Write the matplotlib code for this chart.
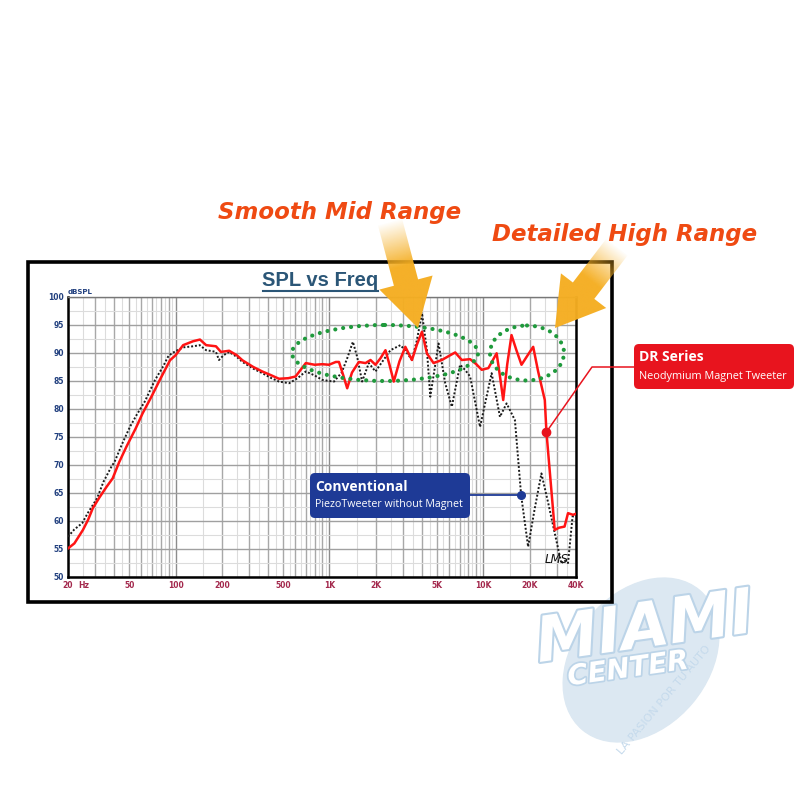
import numpy as np
import matplotlib
matplotlib.use("Agg")
import matplotlib.pyplot as plt
from matplotlib.patches import Rectangle, Ellipse, FancyBboxPatch, Polygon
import matplotlib.patheffects as pe

# measured response, DR series (red)
dr_freq = [20, 22, 25, 27, 29, 32, 35.6, 39, 43, 48, 55, 61, 70, 79, 92, 100, 112, 130, 144,
           158, 183, 197, 210, 223, 250, 272, 320, 366, 420, 470, 540, 602, 650, 702, 800,
           900, 992, 1100, 1153, 1230, 1304, 1400, 1552, 1715, 1848, 1990, 2144, 2312, 2450,
           2618, 2850, 3112, 3436, 3700, 3992, 4300, 4748, 5372, 6000, 6562, 7240, 8200,
           9000, 9760, 10780, 12200, 12800, 13460, 14300, 15240, 16400, 17700, 19300, 21080,
           22700, 25080, 25700, 29100, 31000, 33700, 35500, 38280, 40000]
dr_spl = [55.1, 56.0, 58.4, 60.2, 62.3, 64.2, 66.1, 67.6, 70.5, 73.3, 76.5, 79.2, 82.3, 85.2,
          88.7, 89.6, 91.4, 92.1, 92.4, 91.4, 91.2, 90.2, 90.3, 90.4, 89.6, 88.7, 87.5, 86.7,
          86.0, 85.4, 85.5, 85.8, 87.0, 88.2, 87.9, 88.0, 87.9, 88.4, 88.4, 86.0, 83.7, 86.5,
          88.4, 88.2, 88.75, 87.9, 89.05, 90.5, 88.0, 84.9, 88.5, 91.1, 88.75, 91.5, 93.8,
          89.9, 88.2, 88.75, 89.5, 90.1, 88.75, 88.9, 88.0, 87.0, 87.3, 89.95, 86.0, 81.6,
          88.0, 93.2, 90.5, 87.9, 89.5, 91.1, 86.7, 81.6, 75.9, 58.4, 58.8, 59.0, 61.4, 61.1, 61.3]

# conventional piezo tweeter (black dotted)
pz_freq = [20, 22, 24.7, 27, 30.9, 34, 38.3, 40.2, 45, 50.5, 56, 63, 73.6, 83, 90, 96, 111.6,
           130, 143.6, 158, 175, 183, 191.5, 205, 223, 250, 272, 320, 366, 420, 470, 547, 620,
           702, 800, 898, 1000, 1070, 1200, 1304, 1420, 1514, 1630, 1802, 1990, 2198, 2490,
           2890, 3100, 3436, 3700, 3992, 4300, 4520, 5116, 5652, 6240, 7060, 7600, 8200, 9520,
           11320, 12820, 14160, 16040, 17600, 19540, 21500, 23840, 26500, 29120, 32140, 33500,
           35500, 38000, 40000]
pz_spl = [57.2, 58.5, 59.6, 61.5, 64.05, 67.0, 69.7, 70.6, 73.8, 76.8, 79.0, 81.3, 85.2, 87.6,
          89.5, 90.05, 91.0, 91.2, 91.4, 90.5, 90.3, 90.2, 88.75, 89.6, 90.2, 89.3, 88.4, 87.2,
          86.4, 85.5, 84.9, 84.6, 85.5, 86.7, 86.0, 85.2, 85.0, 84.9, 86.5, 89.05, 92.0, 89.3,
          84.9, 88.2, 86.7, 88.4, 90.5, 91.4, 90.5, 88.75, 92.3, 97.1, 90.5, 82.2, 91.7, 84.6,
          80.4, 87.9, 87.0, 85.8, 76.8, 86.4, 78.6, 81.0, 78.0, 64.6, 55.4, 62.0, 68.5, 63.0,
          57.8, 52.4, 53.0, 52.5, 60.8, 61.0]

x_ticks = [20, 50, 100, 200, 500, 1000, 2000, 5000, 10000, 20000, 40000]
x_labels = ["20", "50", "100", "200", "500", "1K", "2K", "5K", "10K", "20K", "40K"]
y_ticks = list(range(50, 101, 5))

dr_marker = (25700, 75.9)
pz_marker = (17600, 64.6)

W = H = 800
fig = plt.figure(figsize=(8, 8), dpi=100)

# plot area in pixels: x 68..576, y 297..577
px0, px1, py0, py1 = 68, 576, 297, 577
ax = fig.add_axes([px0 / W, 1 - py1 / H, (px1 - px0) / W, (py1 - py0) / H])
ax.set_xscale("log")
ax.set_xlim(20, 40000)
ax.set_ylim(50, 100)

# grid like the LMS chart
major_x, minor_x = [], []
for dec in [10, 100, 1000, 10000]:
    for m in range(1, 10):
        f = m * dec
        if 20 <= f <= 40000:
            major_x.append(f)
        if 20 <= (m + 0.5) * dec <= 40000:
            minor_x.append((m + 0.5) * dec)
for f in minor_x:
    ax.axvline(f, color="#dcdcdc", lw=0.8, zorder=0)
for f in major_x:
    c = "#8c8c8c" if f in (100, 1000, 10000) else "#a8a8a8"
    ax.axvline(f, color=c, lw=1.0, zorder=0)
for v in np.arange(52.5, 100, 5):
    ax.axhline(v, color="#dcdcdc", lw=0.8, zorder=0)
for v in y_ticks:
    ax.axhline(v, color="#a0a0a0", lw=1.0, zorder=0)

ax.plot(pz_freq, pz_spl, color="#1a1a1a", lw=1.4, ls=(0, (1, 1)), zorder=3)
ax.plot(dr_freq, dr_spl, color="#ff1414", lw=1.8, zorder=4)
ax.plot(*dr_marker, "o", color="#e8141e", ms=6, zorder=6)
ax.plot(*pz_marker, "o", color="#1e3a96", ms=5.5, zorder=6)

ax.set_xticks(x_ticks)
ax.set_xticklabels(x_labels)
ax.xaxis.set_minor_locator(matplotlib.ticker.NullLocator())
ax.set_yticks(y_ticks)
ax.tick_params(length=0, pad=3)
for t in ax.get_xticklabels():
    t.set_fontsize(5.5)
    t.set_fontweight("bold")
    t.set_color("#a3284c")
for t in ax.get_yticklabels():
    t.set_fontsize(5.5)
    t.set_fontweight("bold")
    t.set_color("#22407f")
ax.annotate("Hz", xy=(20, 0), xycoords=("data", "axes fraction"), xytext=(7.5, -3),
            textcoords="offset points", fontsize=5.5, fontweight="bold", color="#a3284c",
            ha="left", va="top")
ax.text(0.0, 1.008, "dBSPL", transform=ax.transAxes, fontsize=5, fontweight="bold",
        color="#22407f", ha="left", va="bottom")
ax.text(36000, 52.0, "LMS", fontsize=8.5, style="italic", color="#111111",
        ha="right", va="bottom", zorder=6)

for side in ["left", "bottom", "right"]:
    ax.spines[side].set_linewidth(1.8)
    ax.spines[side].set_color("black")
ax.spines["top"].set_color("#777777")
ax.spines["top"].set_linewidth(1.0)

# overlay in pixel coordinates for annotations
ov = fig.add_axes([0, 0, 1, 1], zorder=5)
ov.set_xlim(0, W)
ov.set_ylim(H, 0)
ov.axis("off")

# watermark
ov.add_patch(Ellipse((641, 660), 182, 134, angle=-50, color="#dce8f2", zorder=1))
ov.text(645, 630, "MIAMI", fontsize=45, fontweight="heavy", style="italic", color="white",
        ha="center", va="center", rotation=8, family="DejaVu Sans", zorder=2,
        path_effects=[pe.withStroke(linewidth=3, foreground="#bcd4e8")])
ov.text(628, 669, "CENTER", fontsize=20, fontweight="bold", style="italic", color="white",
        ha="center", va="center", rotation=8, zorder=2,
        path_effects=[pe.withStroke(linewidth=2.5, foreground="#bcd4e8")])
ov.text(664, 700, "LA PASION POR TU AUTO", fontsize=8, color="#c5daec", rotation=50,
        ha="center", va="center", zorder=2)

# outer frame
ov.add_patch(Rectangle((28, 262), 584, 340, fill=False, lw=2.6, ec="black", zorder=3))

# title
ov.text(320, 280, "SPL vs Freq", fontsize=14.5, fontweight="bold", color="#2b5677",
        family="Liberation Sans", ha="center", va="center", zorder=4)
ov.plot([263, 378], [290.5, 290.5], color="#2b5677", lw=1.5, zorder=4)

# headlines
ov.text(340, 213, "Smooth Mid Range", fontsize=16.5, fontweight="heavy", style="italic",
        color="#ef4a12", ha="center", va="center", zorder=4)
ov.text(625, 234, "Detailed High Range", fontsize=16.5, fontweight="heavy", style="italic",
        color="#ef4a12", ha="center", va="center", zorder=4)

# green dotted ellipses
dot_ls = (0, (0.01, 1.9))
ov.add_patch(Ellipse((385, 353), 186, 56, fill=False, ec="#1f9a3c", lw=3.0, ls=dot_ls,
                     capstyle="round", zorder=4))
ov.add_patch(Ellipse((527, 353), 74, 55, fill=False, ec="#1f9a3c", lw=3.0, ls=dot_ls,
                     capstyle="round", zorder=4))


def gradient_arrow(start, tip, shaft_w, head_w, head_len, color="#f5ae22"):
    s = np.array(start, float)
    t = np.array(tip, float)
    L = np.linalg.norm(t - s)
    d = (t - s) / L
    n = np.array([-d[1], d[0]])
    b = t - d * head_len
    pts = [s + n * shaft_w / 2, b + n * shaft_w / 2, b + n * head_w / 2, t,
           b - n * head_w / 2, b - n * shaft_w / 2, s - n * shaft_w / 2]
    pts = np.array(pts)
    xmin, ymin = pts.min(axis=0) - 2
    xmax, ymax = pts.max(axis=0) + 2
    gx, gy = np.meshgrid(np.linspace(xmin, xmax, 200), np.linspace(ymin, ymax, 200))
    proj = ((gx - s[0]) * d[0] + (gy - s[1]) * d[1]) / L
    alpha = np.clip(proj / 0.42, 0, 1)
    rgba = np.zeros(gx.shape + (4,))
    rgba[..., :3] = matplotlib.colors.to_rgb(color)
    rgba[..., 3] = alpha * 0.97
    im = ov.imshow(rgba, extent=(xmin, xmax, ymin, ymax), origin="lower",
                   interpolation="bilinear", zorder=6, aspect="auto")
    poly = Polygon(pts, closed=True, fc="none", ec="none", zorder=6)
    ov.add_patch(poly)
    im.set_clip_path(poly)


gradient_arrow((390, 222), (418, 328), 25, 55, 47)
gradient_arrow((617, 247), (555, 328), 27, 57, 47)
ov.set_xlim(0, W)
ov.set_ylim(H, 0)


def to_px(pt):
    return ov.transData.inverted().transform(ax.transData.transform(pt))


# DR series label
drx, dry = to_px(dr_marker)
ov.plot([634, 592, drx], [367, 367, dry], color="#e8141e", lw=1.1, zorder=5)
ov.add_patch(FancyBboxPatch((634, 344), 160, 45, boxstyle="round,pad=0,rounding_size=5",
                            fc="#e8141e", ec="none", zorder=5))
ov.text(639, 357, "DR Series", fontsize=10, fontweight="bold", color="white",
        family="Open Sans", ha="left", va="center", zorder=6)
ov.text(639, 376, "Neodymium Magnet Tweeter", fontsize=7.85, color="white",
        family="Open Sans", ha="left", va="center", zorder=6)

# conventional label
pzx, pzy = to_px(pz_marker)
ov.plot([470, pzx], [pzy, pzy], color="#1e3a96", lw=1.3, zorder=5)
ov.add_patch(FancyBboxPatch((310, 473), 160, 45, boxstyle="round,pad=0,rounding_size=5",
                            fc="#1e3a96", ec="none", zorder=5))
ov.text(315, 487, "Conventional", fontsize=10, fontweight="bold", color="white",
        family="Open Sans", ha="left", va="center", zorder=6)
ov.text(315, 505, "PiezoTweeter without Magnet", fontsize=7.7, color="white",
        family="Open Sans", ha="left", va="center", zorder=6)

fig.savefig("out.png", dpi=100, facecolor="white")
